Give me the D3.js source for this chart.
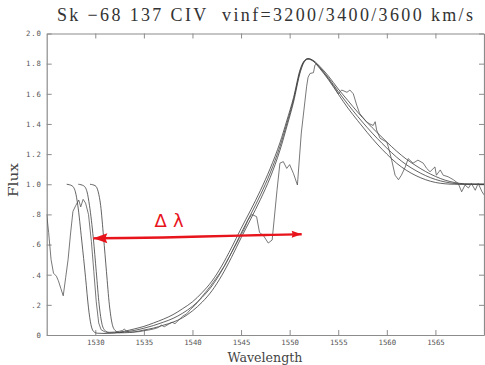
<!DOCTYPE html>
<html>
<head>
<meta charset="utf-8">
<script src="https://cdn.jsdelivr.net/npm/d3@7"></script>
<style>
  body { margin: 0; background: #fff; }
  svg { display: block; }
</style>
</head>
<body>
<svg id="chart" width="485" height="365"></svg>
<script>
// x ticks / y ticks
var xTicks = [1530, 1535, 1540, 1545, 1550, 1555, 1560, 1565];
var yTicks = [0, 0.2, 0.4, 0.6, 0.8, 1.0, 1.2, 1.4, 1.6, 1.8, 2.0];
var yTickLabels = ["0", ".2", ".4", ".6", ".8", "1.0", "1.2", "1.4", "1.6", "1.8", "2.0"];

// observed spectrum [wavelength, flux]
var observed = [
  [1525.0,0.80],[1525.2,0.68],[1525.45,0.5],[1525.7,0.41],[1526.0,0.39],[1526.2,0.36],[1526.45,0.31],
  [1526.7,0.26],[1526.95,0.38],[1527.2,0.50],[1527.45,0.67],[1527.7,0.82],[1528.0,0.86],[1528.3,0.895],
  [1528.5,0.85],[1528.75,0.90],[1529.0,0.875],[1529.3,0.8],[1529.6,0.62],[1529.85,0.42],[1530.1,0.22],
  [1530.35,0.08],[1530.6,0.035],[1531.0,0.02],[1531.5,0.018],[1532.0,0.02],[1532.5,0.025],[1532.8,0.03],
  [1533.0,0.04],[1533.2,0.025],[1533.6,0.018],[1534.0,0.02],[1534.5,0.022],[1535.0,0.028],[1535.5,0.033],
  [1536.0,0.04],[1536.5,0.05],[1536.8,0.065],[1537.1,0.055],[1537.5,0.07],[1537.9,0.085],[1538.2,0.075],
  [1538.6,0.1],[1539.0,0.125],[1539.4,0.14],[1539.8,0.17],[1540.3,0.2],[1540.8,0.24],[1541.3,0.28],
  [1541.8,0.32],[1542.3,0.365],[1542.8,0.41],[1543.3,0.46],[1543.8,0.52],[1544.3,0.58],[1544.8,0.64],
  [1545.3,0.7],[1545.7,0.76],[1546.1,0.80],[1546.6,0.785],[1546.9,0.68],[1547.3,0.66],[1547.8,0.61],
  [1548.2,0.63],[1548.7,0.96],[1549.0,1.14],[1549.35,1.15],[1549.7,1.105],[1550.0,1.13],[1550.4,1.07],
  [1550.8,0.995],[1551.2,1.34],[1551.75,1.65],[1551.9,1.71],[1552.1,1.735],[1552.45,1.74],[1552.6,1.79],
  [1552.8,1.80],[1553.2,1.765],[1553.7,1.725],[1554.2,1.68],[1554.6,1.645],[1555.0,1.60],[1555.35,1.625],
  [1555.9,1.61],[1556.2,1.625],[1556.55,1.60],[1556.9,1.525],[1557.2,1.47],[1557.9,1.415],[1558.25,1.40],
  [1558.6,1.39],[1558.8,1.415],[1558.95,1.36],[1559.3,1.305],[1559.7,1.29],[1560.0,1.28],[1560.15,1.25],
  [1560.5,1.16],[1560.85,1.06],[1561.2,1.03],[1561.5,1.06],[1561.9,1.115],[1562.2,1.17],[1562.7,1.14],
  [1563.2,1.16],[1563.75,1.14],[1564.1,1.105],[1564.45,1.083],[1564.95,1.115],[1565.1,1.06],[1565.5,1.095],
  [1565.8,1.06],[1566.3,1.05],[1566.85,1.03],[1567.35,1.005],[1567.7,0.95],[1568.05,0.995],[1568.4,0.975],
  [1568.7,1.006],[1569.1,0.96],[1569.4,1.006],[1569.8,0.95],[1570.0,0.93]
];

// model vinf = 3600 km/s
var model3600 = [
  [1527.06,1.0],[1527.6,0.99],[1527.95,0.95],[1528.2,0.86],[1528.6,0.63],[1529.0,0.38],[1529.3,0.18],
  [1529.55,0.07],[1529.8,0.025],[1530.2,0.012],[1531,0.01],[1532,0.015],[1533,0.025],[1534,0.04],
  [1535,0.057],[1536,0.08],[1537,0.105],[1538,0.135],[1539,0.175],[1540,0.22],[1541,0.282],[1542,0.357],
  [1543,0.457],[1544,0.577],[1545,0.706],[1546,0.83],[1547,0.96],[1548,1.105],[1549,1.275],[1549.7,1.42],
  [1550.4,1.575],[1551.1,1.765],[1551.5,1.819],[1551.9,1.834],[1552.5,1.818],[1553.1,1.782],[1554,1.717],
  [1555,1.632],[1556,1.555],[1557,1.478],[1558,1.408],[1559,1.343],[1560,1.28],[1561,1.22],[1562,1.167],
  [1563,1.123],[1564,1.084],[1565,1.052],[1566,1.027],[1567,1.011],[1568,1.003],[1570,1.0]
];

// model vinf = 3400 km/s
var model3400 = [
  [1528.25,1.0],[1528.8,0.99],[1529.15,0.95],[1529.4,0.86],[1529.8,0.64],[1530.1,0.42],[1530.4,0.2],
  [1530.7,0.07],[1531.0,0.03],[1531.4,0.015],[1532,0.013],[1533,0.02],[1534,0.03],[1535,0.045],
  [1536,0.063],[1537,0.085],[1538,0.11],[1539,0.145],[1540,0.19],[1541,0.25],[1542,0.325],[1543,0.425],
  [1544,0.545],[1545,0.675],[1546,0.8],[1547,0.93],[1548,1.075],[1549,1.25],[1549.7,1.4],[1550.4,1.56],
  [1551.1,1.755],[1551.5,1.815],[1551.9,1.832],[1552.5,1.815],[1553.1,1.775],[1554,1.705],[1555,1.615],
  [1556,1.53],[1557,1.45],[1558,1.375],[1559,1.305],[1560,1.24],[1561,1.18],[1562,1.13],[1563,1.09],
  [1564,1.057],[1565,1.032],[1566,1.015],[1567,1.005],[1568,1.0],[1570,1.0]
];

// model vinf = 3200 km/s
var model3200 = [
  [1529.46,1.0],[1530.0,0.99],[1530.3,0.95],[1530.55,0.86],[1530.85,0.65],[1531.15,0.42],[1531.45,0.2],
  [1531.75,0.07],[1532.05,0.03],[1532.5,0.015],[1533,0.015],[1534,0.02],[1535,0.033],[1536,0.046],
  [1537,0.065],[1538,0.085],[1539,0.115],[1540,0.16],[1541,0.218],[1542,0.293],[1543,0.393],[1544,0.513],
  [1545,0.644],[1546,0.77],[1547,0.9],[1548,1.045],[1549,1.225],[1549.7,1.38],[1550.4,1.545],[1551.1,1.745],
  [1551.5,1.811],[1551.9,1.83],[1552.5,1.812],[1553.1,1.768],[1554,1.693],[1555,1.598],[1556,1.505],
  [1557,1.422],[1558,1.342],[1559,1.267],[1560,1.2],[1561,1.14],[1562,1.093],[1563,1.057],[1564,1.03],
  [1565,1.012],[1566,1.003],[1567,1.0],[1570,1.0]
];

// red hand drawn annotation (wavelength, flux)
var arrowLine = [[1529.8,0.641],[1533,0.643],[1537,0.646],[1541,0.653],[1545,0.66],[1548,0.664],[1551.24,0.668]];
var arrowLabelPos = [1536.1, 0.715];

var svg = d3.select("#chart");

var x = d3.scaleLinear().domain([1525, 1570]).range([46.7, 484]);
var y = d3.scaleLinear().domain([0, 2]).range([335, 33.5]);

var axisColor = "#8c8c8c";

svg.append("defs").append("clipPath").attr("id", "plotclip")
  .append("rect")
  .attr("x", x(1525)).attr("y", y(2))
  .attr("width", x(1570) - x(1525)).attr("height", y(0) - y(2));

// axes
var gx = svg.append("g").attr("transform", "translate(0," + y(0) + ")")
  .call(d3.axisBottom(x).tickValues(xTicks).tickFormat(d3.format("d")).tickSizeInner(-5).tickSizeOuter(0).tickPadding(5));
var gxt = svg.append("g").attr("transform", "translate(0," + y(2) + ")")
  .call(d3.axisTop(x).tickValues(xTicks).tickFormat("").tickSizeInner(-5).tickSizeOuter(0));
var gy = svg.append("g").attr("transform", "translate(" + x(1525) + ",0)")
  .call(d3.axisLeft(y).tickValues(yTicks).tickFormat(function(d, i){ return yTickLabels[i]; }).tickSizeInner(-5).tickSizeOuter(0).tickPadding(5));
var gyr = svg.append("g").attr("transform", "translate(" + x(1570) + ",0)")
  .call(d3.axisRight(y).tickValues(yTicks).tickFormat("").tickSizeInner(-5).tickSizeOuter(0));

[gx, gxt, gy, gyr].forEach(function(g){
  g.selectAll("path.domain").attr("stroke", axisColor).attr("stroke-width", 1.2);
  g.selectAll(".tick line").attr("stroke", axisColor).attr("stroke-width", 1);
  g.selectAll(".tick text")
    .attr("fill", "#555")
    .style("font-family", "'DejaVu Sans Mono', monospace")
    .style("font-size", "7.3px");
});
gy.selectAll(".tick text").style("letter-spacing", "0.8px");

// curves
var smooth = d3.line()
  .x(function(d){ return x(d[0]); })
  .y(function(d){ return y(d[1]); })
  .curve(d3.curveMonotoneX);

var rough = d3.line()
  .x(function(d){ return x(d[0]); })
  .y(function(d){ return y(d[1]); });

var plot = svg.append("g").attr("clip-path", "url(#plotclip)");

[model3600, model3400, model3200].forEach(function(m){
  plot.append("path")
    .datum(m)
    .attr("d", smooth)
    .attr("fill", "none")
    .attr("stroke", "#3c3c3c")
    .attr("stroke-width", 0.8);
});

plot.append("path")
  .datum(observed)
  .attr("d", rough)
  .attr("fill", "none")
  .attr("stroke", "#555")
  .attr("stroke-width", 0.8);

// annotation arrow
var red = "#e8141c";
svg.append("path")
  .datum(arrowLine)
  .attr("d", d3.line().x(function(d){ return x(d[0]); }).y(function(d){ return y(d[1]); }).curve(d3.curveBasis))
  .attr("fill", "none")
  .attr("stroke", red)
  .attr("stroke-width", 2.4);

var lt = arrowLine[0], rt = arrowLine[arrowLine.length - 1];
var lx = x(lt[0]), ly = y(lt[1]), rx = x(rt[0]), ry = y(rt[1]);
svg.append("polygon")
  .attr("points", [[lx, ly], [lx + 14, ly - 5], [lx + 12, ly], [lx + 14, ly + 5]].join(" "))
  .attr("fill", red);
svg.append("polygon")
  .attr("points", [[rx, ry], [rx - 10, ry - 3.5], [rx - 9, ry], [rx - 10, ry + 3.5]].join(" "))
  .attr("fill", red);

svg.append("text")
  .attr("x", x(arrowLabelPos[0]))
  .attr("y", y(arrowLabelPos[1]))
  .attr("fill", red)
  .style("font-family", "'DejaVu Sans', sans-serif")
  .style("font-size", "18px")
  .style("letter-spacing", "6px")
  .text("Δλ");

// titles
svg.append("text")
  .attr("x", 265).attr("y", 21)
  .attr("text-anchor", "middle")
  .attr("fill", "#333")
  .attr("textLength", 416)
  .attr("lengthAdjust", "spacing")
  .style("font-family", "'Liberation Serif', serif")
  .style("font-size", "18px")
  .text("Sk \u221268 137 CIV \u00a0vinf=3200/3400/3600 km/s");

svg.append("text")
  .attr("x", 265).attr("y", 362)
  .attr("text-anchor", "middle")
  .attr("fill", "#444")
  .attr("textLength", 75)
  .attr("lengthAdjust", "spacingAndGlyphs")
  .style("font-family", "'DejaVu Serif', serif")
  .style("font-size", "13px")
  .text("Wavelength");

svg.append("text")
  .attr("transform", "translate(18,180) rotate(-90)")
  .attr("text-anchor", "middle")
  .attr("fill", "#444")
  .attr("textLength", 34)
  .attr("lengthAdjust", "spacingAndGlyphs")
  .style("font-family", "'DejaVu Serif', serif")
  .style("font-size", "13px")
  .text("Flux");
</script>
</body>
</html>
